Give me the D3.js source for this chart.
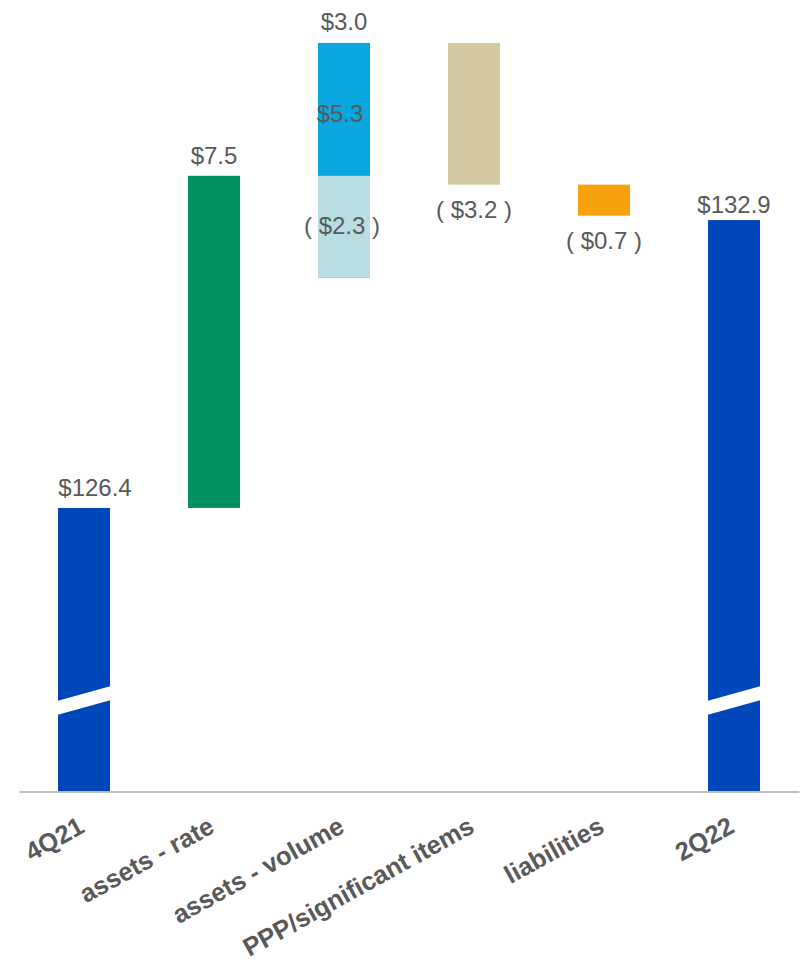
<!DOCTYPE html>
<html>
<head>
<meta charset="utf-8">
<script src="https://cdn.jsdelivr.net/npm/d3@7"></script>
<style>
  html, body { margin: 0; padding: 0; background: #ffffff; }
  svg { display: block; }
  text { font-family: "Liberation Sans", Arial, sans-serif; }
</style>
</head>
<body>
<svg id="chart" width="800" height="962"></svg>
<script>
// Net interest income bridge, 4Q21 to 2Q22 ($)
const categories = ["4Q21", "assets - rate", "assets - volume", "PPP/significant items", "liabilities", "2Q22"];
const barKinds   = ["total", "delta", "split", "delta", "delta", "total"];
const barValues  = [126.4, 7.5, 3.0, -3.2, -0.7, 132.9];
// assets - volume is made of a decrease and an increase that net to $3.0
const volumeParts = [-2.3, 5.3];
const palette = ["#0047bb", "#00925f", null, "#d3c89f", "#f9a10a", "#0047bb"];
const volumeColors = ["#b8dde3", "#0aa6df"];
const breakValue = 122.05;

const svg = d3.select("#chart");

const x = d3.scaleBand().domain(categories).range([19, 799]).paddingInner(0.6).paddingOuter(0.3);
const y = d3.scaleLinear().domain([120, 137]).range([791.4, 38.5]);

const fmt = d3.format(".1f");
const money = v => v < 0 ? "( $" + fmt(-v) + " )" : "$" + fmt(v);

// running totals for the floating bars
let level = 0;
const bars = [];
const labels = [];
categories.forEach((c, i) => {
  const v = barValues[i];
  if (barKinds[i] === "total") {
    const first = i === 0;
    level = v;
    bars.push({ c, lo: 120, hi: v, color: palette[i] });
    labels.push({ c, text: money(v), y: y(v) - (first ? 12 : 7), dx: first ? 11 : 0 });
  } else if (barKinds[i] === "delta") {
    const lo = Math.min(level, level + v), hi = Math.max(level, level + v);
    bars.push({ c, lo, hi, color: palette[i] });
    labels.push({ c, text: money(v), y: v >= 0 ? y(hi) - 12 : y(lo) + 33 });
    level += v;
  } else {
    const [down, up] = volumeParts;
    const bottom = level + down;
    const top = bottom + up;
    // increase drawn first, decrease laid over its lower part
    bars.push({ c, lo: bottom, hi: top, color: volumeColors[1] });
    bars.push({ c, lo: bottom, hi: level, color: volumeColors[0] });
    labels.push({ c, text: money(v), y: y(top) - 13 });
    labels.push({ c, text: money(up), y: (y(top) + y(level)) / 2 + 13, dx: -4 });
    labels.push({ c, text: money(down), y: (y(level) + y(bottom)) / 2 + 7, dx: -2 });
    level = top;
  }
});

svg.append("g").selectAll("rect").data(bars).join("rect")
  .attr("x", d => x(d.c))
  .attr("width", x.bandwidth())
  .attr("y", d => y(d.hi))
  .attr("height", d => y(d.lo) - y(d.hi))
  .attr("fill", d => d.color);

// axis-break slashes across the two total bars
const bw = x.bandwidth();
svg.append("g").selectAll("path")
  .data(categories.filter((c, i) => barKinds[i] === "total"))
  .join("path")
  .attr("fill", "#ffffff")
  .attr("d", c => {
    const x0 = x(c) - 1, x1 = x(c) + bw + 1;
    const yc = y(breakValue), rise = 7.5, half = 7;
    return `M${x0},${yc + rise - half} L${x1},${yc - rise - half} L${x1},${yc - rise + half} L${x0},${yc + rise + half} Z`;
  });

// value labels
svg.append("g").selectAll("text").data(labels).join("text")
  .attr("x", d => x(d.c) + bw / 2 + (d.dx || 0))
  .attr("y", d => d.y)
  .attr("text-anchor", "middle")
  .attr("font-size", 24)
  .attr("fill", "#595959")
  .text(d => d.text);

// category axis
const axis = svg.append("g")
  .attr("transform", `translate(0,${y(120)})`)
  .call(d3.axisBottom(x).tickSize(0).tickSizeOuter(0));
axis.select(".domain").attr("stroke", "#bfbfbf").attr("stroke-width", 2);
axis.selectAll(".tick text")
  .attr("font-family", "'Liberation Sans', Arial, sans-serif")
  .attr("font-size", 25.5)
  .attr("font-weight", "bold")
  .attr("fill", "#595959")
  .attr("text-anchor", "end")
  .attr("dy", 0)
  .attr("y", 0)
  .attr("transform", "translate(2,40) rotate(-29)");
</script>
</body>
</html>
